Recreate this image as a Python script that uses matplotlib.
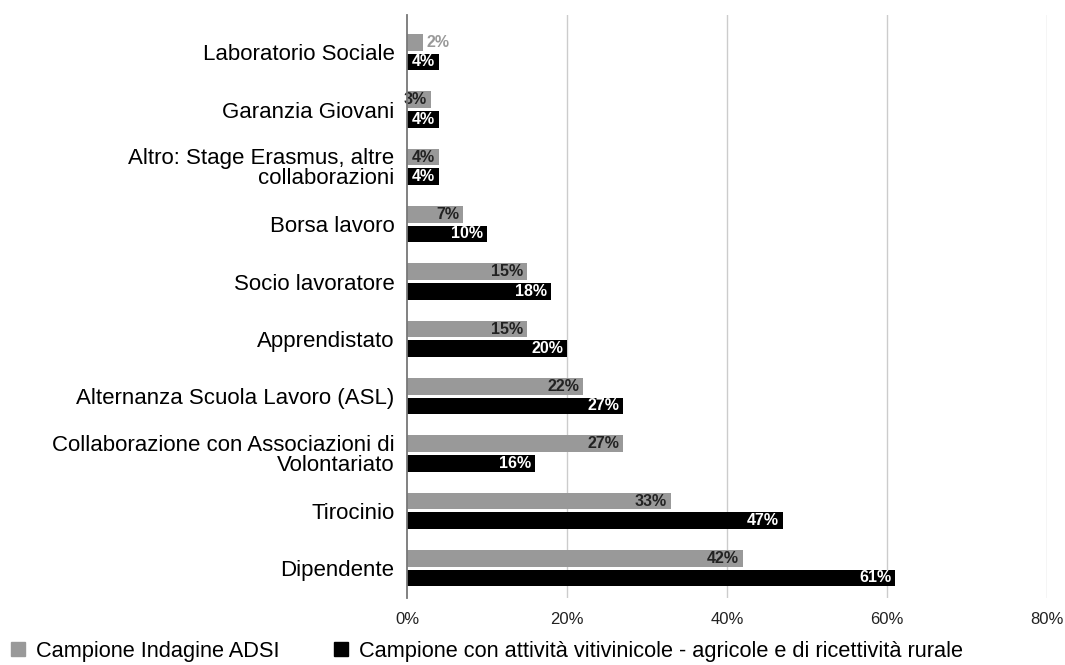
import matplotlib
matplotlib.use("Agg")
import matplotlib.pyplot as plt
from matplotlib.patches import Patch
import numpy as np

plt.rcParams['font.family'] = ['Liberation Sans', 'DejaVu Sans']

categories = [
    "Laboratorio Sociale",
    "Garanzia Giovani",
    "Altro: Stage Erasmus, altre\ncollaborazioni",
    "Borsa lavoro",
    "Socio lavoratore",
    "Apprendistato",
    "Alternanza Scuola Lavoro (ASL)",
    "Collaborazione con Associazioni di\nVolontariato",
    "Tirocinio",
    "Dipendente",
]
adsi = [2, 3, 4, 7, 15, 15, 22, 27, 33, 42]
vitivinicole = [4, 4, 4, 10, 18, 20, 27, 16, 47, 61]
series_names = ["Campione Indagine ADSI",
                "Campione con attività vitivinicole - agricole e di ricettività rurale"]
xticks = [0, 20, 40, 60, 80]
xticklabels = ["0%", "20%", "40%", "60%", "80%"]

GREY = "#999999"
BLACK = "#000000"

fig = plt.figure(figsize=(10.65, 6.65), dpi=100)
ax = fig.add_axes([0.3822, 0.1008, 0.601, 0.8767])

y = np.arange(len(categories))
h = 0.29
off = 0.17
ax.barh(y - off, adsi, height=h, color=GREY, zorder=3)
ax.barh(y + off, vitivinicole, height=h, color=BLACK, zorder=3)

for yi, v in zip(y, adsi):
    if v < 3:
        ax.text(v + 0.4, yi - off, f"{v}%", ha="left", va="center",
                fontsize=11.5, fontweight="bold", color=GREY, zorder=4)
    else:
        ax.text(v - 0.5, yi - off, f"{v}%", ha="right", va="center",
                fontsize=11.5, fontweight="bold", color="#222222", zorder=4)
for yi, v in zip(y, vitivinicole):
    ax.text(v - 0.5, yi + off, f"{v}%", ha="right", va="center",
            fontsize=11.5, fontweight="bold", color="white", zorder=4)

ax.set_ylim(9.52, -0.65)
ax.set_xlim(0, 80)
ax.set_yticks(y)
ax.set_yticklabels(categories, fontsize=16, linespacing=0.92)
ax.set_xticks(xticks)
ax.set_xticklabels(xticklabels, fontsize=12, color="#222222")
ax.tick_params(axis="y", length=0, pad=9)
ax.tick_params(axis="x", length=0, pad=10)

for s in ["top", "right", "bottom"]:
    ax.spines[s].set_visible(False)
ax.spines["left"].set_color("#777777")
ax.spines["left"].set_linewidth(1.3)
ax.spines["left"].set_zorder(5)
for xt in xticks[1:]:
    ax.axvline(xt, color="#cccccc", linewidth=1, zorder=1)

handles = [Patch(facecolor=GREY, edgecolor=GREY), Patch(facecolor=BLACK, edgecolor=BLACK)]
fig.legend(handles, series_names, loc="lower left", bbox_to_anchor=(-0.004, -0.018),
           ncol=2, frameon=False, fontsize=15.7, handlelength=0.65, handleheight=0.65,
           handletextpad=0.5, columnspacing=2.5, borderaxespad=0.3)

fig.savefig("out.png", dpi=100)
